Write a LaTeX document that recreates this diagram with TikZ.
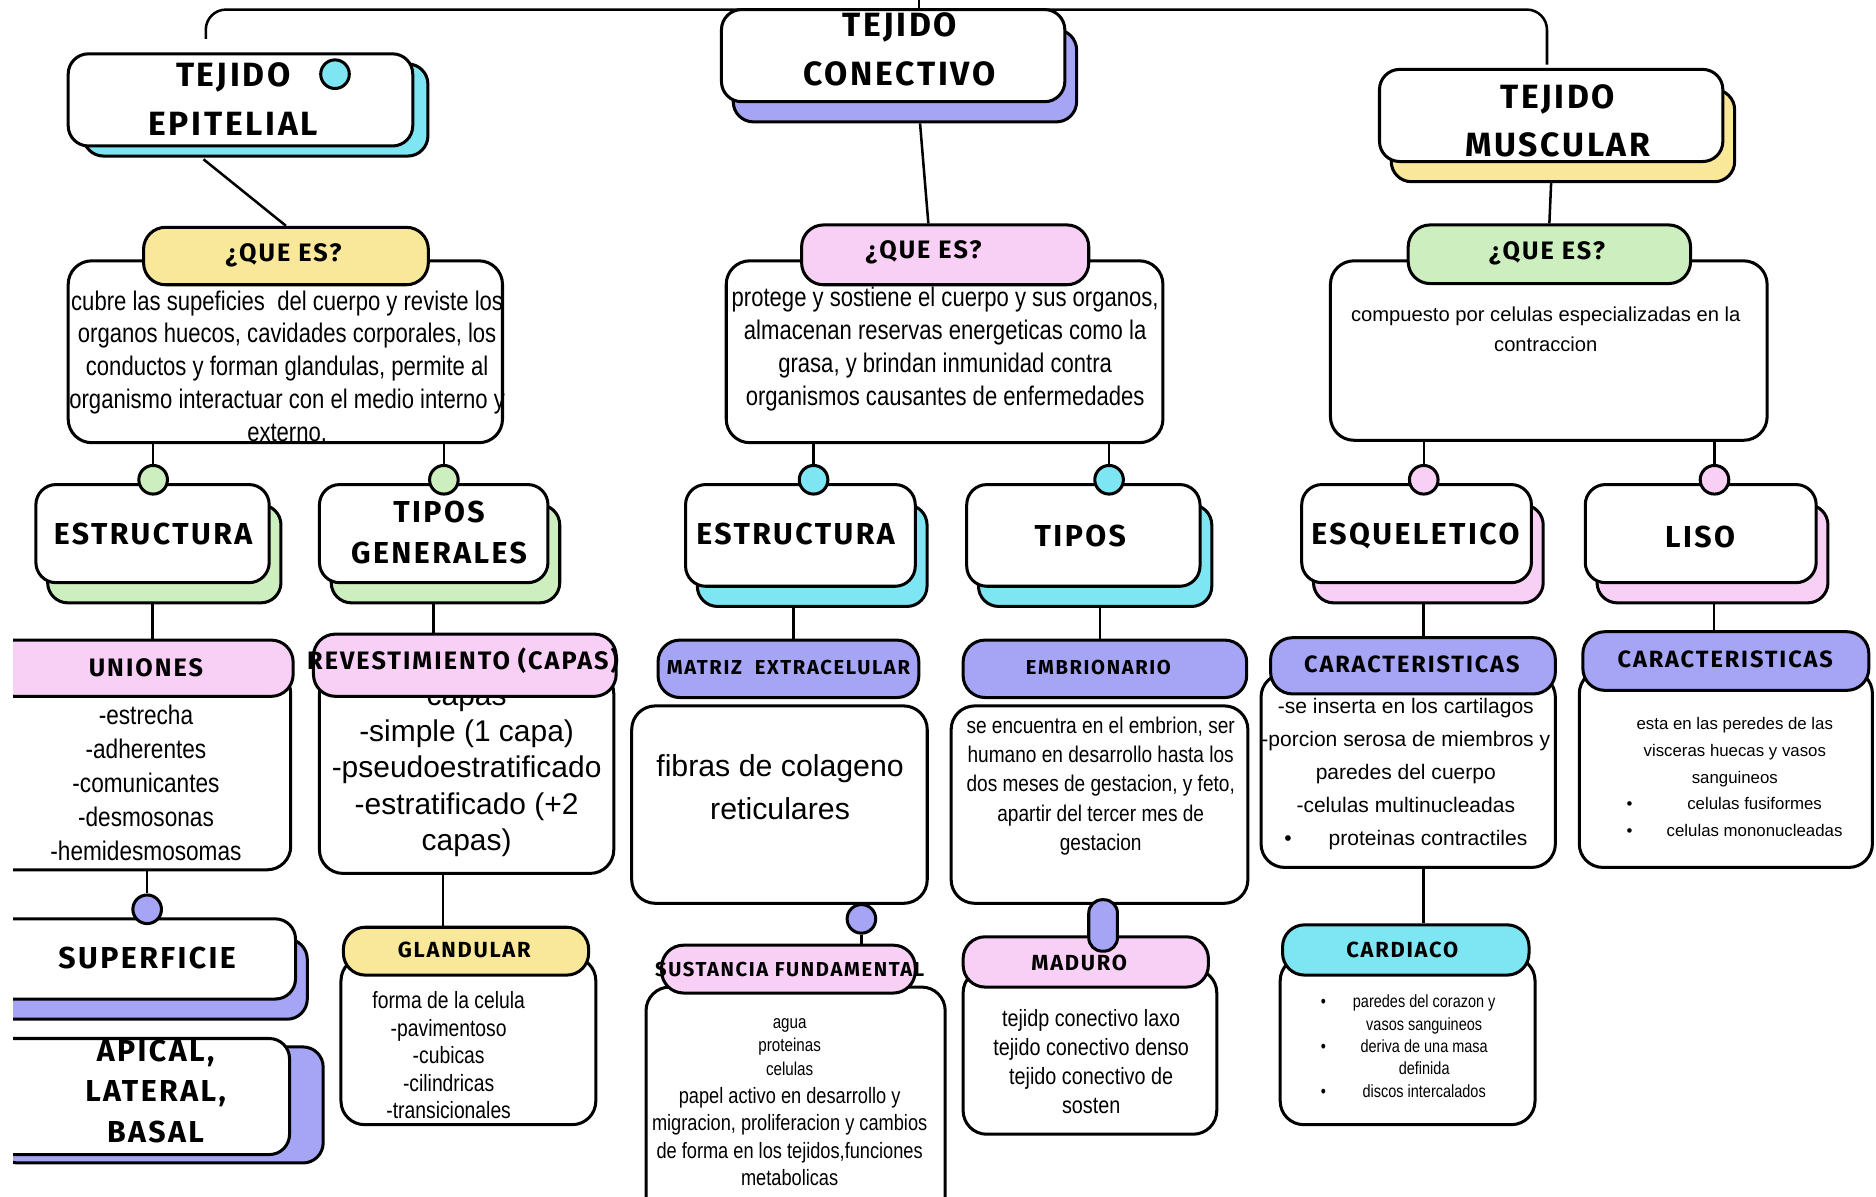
\documentclass[tikz,border=0pt]{standalone}
\usepackage{fontspec}
\setmainfont{Liberation Sans}
\newfontfamily\condfont{Liberation Sans}[FakeStretch=0.82]
\newfontfamily\midfont{Liberation Sans}[FakeStretch=0.84]
\newfontfamily\headfont{Fira Sans}[LetterSpace=8]
\usetikzlibrary{fit,shadows}
\definecolor{cyanc}{HTML}{7EE6F2}
\definecolor{lilac}{HTML}{A6A4F4}
\definecolor{pinkc}{HTML}{F8D0F6}
\definecolor{greenc}{HTML}{CDEFBF}
\definecolor{yellowc}{HTML}{F9E79A}
\newcommand\fsz[2]{\fontsize{#1}{#2}\selectfont}

\begin{document}
\begin{tikzpicture}[x=0.025cm, y=-0.025cm]
    \tikzset{tbox/.style={draw, line width=1.8pt, rounded corners=12pt, fill=white, inner sep=0pt},
      back/.style={general shadow={fill=#1, draw=black, line width=1.8pt,
        shadow xshift=7pt, shadow yshift=-12pt}},
      pill/.style={draw, line width=1.8pt, rounded corners=13pt, fill=#1, inner sep=0pt},
      dbox/.style={draw, line width=1.8pt, rounded corners=14pt, fill=white, inner sep=0pt},
      dot/.style={circle, draw, line width=1.8pt, fill=#1, minimum size=17pt, inner sep=0pt},
      tlbl/.style={font=\headfont\bfseries\fsz{20}{29}, align=center},
      blbl/.style={font=\headfont\bfseries\fsz{18}{24}, align=center},
      plbl/.style={font=\headfont\bfseries\fsz{#1}{18}},
      plbl/.default=15,
      link/.style={line width=1.5pt}}
    \fill[white] (0,0) rectangle (1568,1000);
    \useasboundingbox (0,0) rectangle (1568,1000);

    \coordinate (topL) at (172,8);
    \coordinate (topR) at (1293,8);
    \coordinate (topM) at (768,0);

    % tejido epitelial
    \node[tbox, general shadow={fill=cyanc, draw=black, line width=1.8pt, shadow xshift=9pt, shadow yshift=-6pt},
      fit={(57,45)(345,122)}] (epi) {};
    \node[tlbl] (epilbl) at (195,83) {TEJIDO\\EPITELIAL};
    \node[dot=cyanc] (epidot) at (280,62) {};
    \node[dbox, fit={(57,218)(420,370)}] (epidesc) {};
    \node[pill=yellowc, fit={(120,190)(358,238)}] (epiq) {};
    \node[plbl] (epiqlbl) at (237,213) {¿QUE ES?};
    \node[font=\condfont\fsz{16}{19.5}, align=center] (epitxt) at (240,306)
      {cubre las supeficies\ \ del cuerpo y reviste los\\organos huecos, cavidades corporales, los\\conductos y forman glandulas, permite al\\organismo interactuar con el medio interno y\\externo.};

    \node[tbox, back=greenc, fit={(30,405)(225,487)}] (epiest) {};
    \node[blbl] (epiestlbl) at (128,446) {ESTRUCTURA};
    \node[tbox, back=greenc, fit={(267,405)(458,487)}] (epitip) {};
    \node[blbl] (epitiplbl) at (367,445) {TIPOS\\GENERALES};
    \node[dot=greenc] (epidota) at (128,401) {};
    \node[dot=greenc] (epidotb) at (371,401) {};

    \begin{scope}
      \clip (11,500) rectangle (600,1000);
      \node[dbox, fit={(-30,560)(243,727)}] (unibox) {};
      \node[pill=pinkc, fit={(-30,535)(245,582)}] (unip) {};
      \node[plbl] (uniplbl) at (122,558) {UNIONES};
      \node[font=\midfont\fsz{16}{20.2}, align=center] (unitxt) at (122,654)
        {-estrecha\\-adherentes\\-comunicantes\\-desmosonas\\-hemidesmosomas};
      \node[tbox, back=lilac, fit={(-30,768)(247,835)}] (sup) {};
      \node[blbl] (suplbl) at (123,801) {SUPERFICIE};
      \node[tbox, general shadow={fill=lilac, draw=black, line width=1.8pt, shadow xshift=20pt, shadow yshift=-5pt},
        fit={(-30,868)(242,965)}] (api) {};
      \node[blbl] (apilbl) at (130,912) {APICAL,\\LATERAL,\\BASAL};
    \end{scope}
    \node[dot=lilac] (supdot) at (123,760) {};

    \node[dbox, fit={(267,560)(513,730)}] (revbox) {};
    \node[font=\fsz{17.8}{21.6}, align=center] (revtxt) at (390,646)
      {capas\\-simple (1 capa)\\-pseudoestratificado\\-estratificado (+2\\capas)};
    \node[pill=pinkc, fit={(262,530)(515,582)}] (revp) {};
    \node[plbl] (revplbl) at (387,552) {REVESTIMIENTO (CAPAS)};

    \node[dbox, fit={(285,800)(498,940)}] (glbox) {};
    \node[pill=yellowc, fit={(287,775)(492,815)}] (glp) {};
    \node[plbl=13] (glplbl) at (388,794) {GLANDULAR};
    \node[font=\condfont\fsz{14}{16.3}, align=center] (gltxt) at (375,882)
      {forma de la celula\\-pavimentoso\\-cubicas\\-cilindricas\\-transicionales};

    % tejido conectivo
    \node[tbox, back=lilac, fit={(603,8)(890,85)}] (con) {};
    \node[tlbl] (conlbl) at (752,41) {TEJIDO\\CONECTIVO};
    \node[dbox, fit={(607,218)(972,370)}] (condesc) {};
    \node[pill=pinkc, fit={(670,188)(910,238)}] (conq) {};
    \node[plbl] (conqlbl) at (772,211) {¿QUE ES?};
    \node[font=\condfont\fsz{16}{19.6}, align=center] (contxt) at (790,292)
      {protege y sostiene el cuerpo y sus organos,\\almacenan reservas energeticas como la\\grasa, y brindan inmunidad contra\\organismos causantes de enfermedades};

    \node[tbox, back=cyanc, fit={(573,405)(765,490)}] (conest) {};
    \node[blbl] (conestlbl) at (665,446) {ESTRUCTURA};
    \node[tbox, back=cyanc, fit={(808,405)(1003,490)}] (contip) {};
    \node[blbl] (contiplbl) at (903,448) {TIPOS};
    \node[dot=cyanc] (condota) at (680,401) {};
    \node[dot=cyanc] (condotb) at (927,401) {};

    \node[pill=lilac, fit={(550,535)(768,583)}] (matp) {};
    \node[plbl=12] (matplbl) at (659,558) {MATRIZ\ \ EXTRACELULAR};
    \node[dbox, fit={(528,590)(775,755)}] (matbox) {};
    \node[font=\fsz{18}{26}, align=center] (mattxt) at (652,658) {fibras de colageno\\reticulares};
    \node[dot=lilac] (matdot) at (720,768) {};

    \node[dbox, fit={(540,825)(790,1040)}] (susbox) {};
    \node[pill=pinkc, fit={(553,790)(765,830)}] (susp) {};
    \node[plbl=12] (susplbl) at (660,810) {SUSTANCIA FUNDAMENTAL};
    \node[font=\condfont\fsz{11}{14}, align=center] (sustxta) at (660,875) {agua\\proteinas\\celulas};
    \node[font=\condfont\fsz{13.2}{16.3}, align=center] (sustxtb) at (660,950)
      {papel activo en desarrollo y\\migracion, proliferacion y cambios\\de forma en los tejidos,funciones\\metabolicas};

    \node[pill=lilac, fit={(805,535)(1042,583)}] (embp) {};
    \node[plbl=12] (embplbl) at (918,558) {EMBRIONARIO};
    \node[dbox, fit={(795,590)(1043,755)}] (embbox) {};
    \node[font=\midfont\fsz{13.5}{17.5}, align=center] (embtxt) at (920,657)
      {se encuentra en el embrion, ser\\humano en desarrollo hasta los\\dos meses de gestacion, y feto,\\apartir del tercer mes de\\gestacion};

    \node[dbox, fit={(805,810)(1017,948)}] (madbox) {};
    \node[pill=pinkc, fit={(805,783)(1010,825)}] (madp) {};
    \node[draw, line width=1.8pt, fill=lilac, rounded corners=8pt, inner sep=0pt,
      fit={(910,752)(934,795)}] (madlink) {};
    \node[plbl=13] (madplbl) at (902,805) {MADURO};
    \node[font=\midfont\fsz{14}{17.2}, align=center] (madtxt) at (912,887)
      {tejidp conectivo laxo\\tejido conectivo denso\\tejido conectivo de\\sosten};

    % tejido muscular
    \node[tbox, back=yellowc, fit={(1153,58)(1440,135)}] (mus) {};
    \node[tlbl] (muslbl) at (1302,101) {TEJIDO\\MUSCULAR};
    \node[dbox, fit={(1112,218)(1477,368)}] (musdesc) {};
    \node[pill=greenc, fit={(1177,188)(1413,237)}] (musq) {};
    \node[plbl] (musqlbl) at (1293,212) {¿QUE ES?};
    \node[font=\fsz{12}{17.7}, align=center] (mustxt) at (1292,275)
      {compuesto por celulas especializadas en la\\contraccion};

    \node[tbox, back=pinkc, fit={(1088,405)(1280,487)}] (esq) {};
    \node[blbl] (esqlbl) at (1183,448) {ESQUELETICO};
    \node[tbox, back=pinkc, fit={(1325,405)(1518,487)}] (liso) {};
    \node[blbl] (lisolbl) at (1421,449) {LISO};
    \node[dot=pinkc] (musdota) at (1190,401) {};
    \node[dot=pinkc] (musdotb) at (1433,401) {};

    \node[dbox, fit={(1054,563)(1300,725)}] (esqbox) {};
    \node[pill=lilac, fit={(1062,533)(1300,580)}] (esqp) {};
    \node[plbl=14] (esqplbl) at (1180,555) {CARACTERISTICAS};
    \node[font=\fsz{12.5}{19.5}, align=center] (esqtxt) at (1175,647)
      {-se inserta en los cartilagos\\-porcion serosa de miembros y\\paredes del cuerpo\\-celulas multinucleadas\\\textbullet\hspace{22pt}proteinas contractiles};

    \node[dbox, fit={(1070,800)(1283,940)}] (cardbox) {};
    \node[pill=cyanc, fit={(1072,773)(1278,815)}] (cardp) {};
    \node[plbl=13] (cardplbl) at (1172,794) {CARDIACO};
    \node[font=\condfont\fsz{10.5}{13.3}] (cardtxt) at (1177,876)
      {\begin{tabular}{@{}c@{\hspace{16pt}}c@{}}\textbullet & paredes del corazon y\\ & vasos sanguineos\\ \textbullet & deriva de una masa\\ & definida\\ \textbullet & discos intercalados\end{tabular}};

    \node[dbox, fit={(1320,560)(1565,725)}] (lisobox) {};
    \node[pill=lilac, fit={(1323,528)(1562,577)}] (lisop) {};
    \node[plbl=14] (lisoplbl) at (1442,551) {CARACTERISTICAS};
    \node[font=\fsz{10}{16}] (lisotxt) at (1450,650)
      {\begin{tabular}{@{}c@{\hspace{20pt}}c@{}}\multicolumn{2}{c}{esta en las peredes de las}\\ \multicolumn{2}{c}{visceras huecas y vasos}\\ \multicolumn{2}{c}{sanguineos}\\ \textbullet & celulas fusiformes\\ \textbullet & celulas mononucleadas\end{tabular}};

    % conectores
    \draw[link, rounded corners=12pt] ([yshift=8pt]epi.north -| topL) -- (topL) -- (topR) -- ([yshift=2pt]mus.north -| topR);
    \draw[link] (con.north -| topM) -- (topM);
    \draw[link] ([xshift=-22pt,yshift=-7pt]epi.south) -- (epiq.north);
    \draw[link] (epidesc.south -| epidota) -- (epidota.north);
    \draw[link] (epidesc.south -| epidotb) -- (epidotb.north);
    \draw[link] ([yshift=-12pt]epiest.south) -- (epiest.south |- unip.north);
    \draw[link] (unibox.south -| supdot) -- (supdot.north);
    \draw[link] ([yshift=-12pt]epitip.south) -- (epitip.south |- revp.north);
    \draw[link] ([xshift=-14pt]revbox.south) -- ([xshift=-14pt]revbox.south |- glp.north);

    \draw[link] ([xshift=16pt,yshift=-12pt]con.south) -- ([xshift=-10pt]conq.north);
    \draw[link] (condesc.south -| condota) -- (condota.north);
    \draw[link] (condesc.south -| condotb) -- (condotb.north);
    \draw[link] ([xshift=-4pt,yshift=-12pt]conest.south) -- ([xshift=-4pt]conest.south |- matp.north);
    \draw[link] (matbox.south -| matdot) -- (matdot.north);
    \draw[link] (matdot.south) -- (matdot |- susp.north);
    \draw[link] ([xshift=10pt,yshift=-12pt]contip.south) -- ([xshift=10pt]contip.south |- embp.north);

    \draw[link] ([yshift=-11pt]mus.south) -- (musq.north);
    \draw[link] (musdesc.south -| musdota) -- (musdota.north);
    \draw[link] (musdesc.south -| musdotb) -- (musdotb.north);
    \draw[link] ([xshift=4pt,yshift=-12pt]esq.south) -- ([xshift=4pt]esq.south |- esqp.north);
    \draw[link] ([xshift=9pt]esqbox.south) -- ([xshift=9pt]esqbox.south |- cardp.north);
    \draw[link] ([xshift=8pt,yshift=-12pt]liso.south) -- ([xshift=8pt]liso.south |- lisop.north);
\end{tikzpicture}
\end{document}
